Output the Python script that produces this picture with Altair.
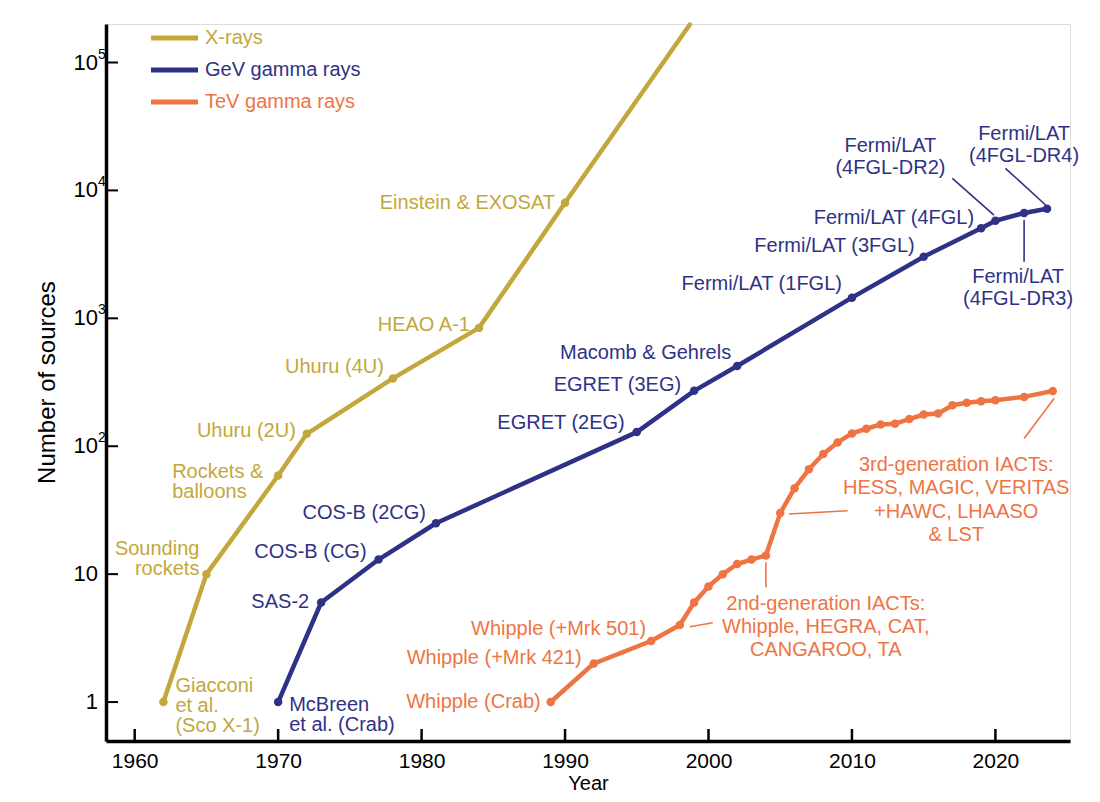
import altair as alt
import pandas as pd

# ---------------- data ----------------
xray_year = [1962, 1965, 1970, 1972, 1978, 1984, 1990, 1998.7]
xray_n = [1, 10, 59, 125, 339, 842, 8000, 198000]
xray_dot = [True, True, True, True, True, True, True, False]

gev_year = [1970, 1973, 1977, 1981, 1995, 1999, 2002, 2010, 2015, 2019, 2020, 2022, 2023.6]
gev_n = [1, 6, 13, 25, 129, 271, 424, 1451, 3033, 5064, 5788, 6658, 7194]

tev_year = [1989, 1992, 1996, 1998, 1999, 2000, 2001, 2002, 2003, 2004, 2005, 2006,
            2007, 2008, 2009, 2010, 2011, 2012, 2013, 2014, 2015, 2016, 2017, 2018,
            2019, 2020, 2022, 2024]
tev_n = [1, 2, 3, 4, 6, 8, 10, 12, 13, 14, 30, 47, 66, 87, 107, 126, 137, 148, 150,
         163, 177, 180, 209, 219, 225, 229, 243, 270]

series_names = ["X-rays", "GeV gamma rays", "TeV gamma rays"]
series_colors = ["#C3A73B", "#2E3286", "#EF7444"]

x_tick_years = [1960, 1970, 1980, 1990, 2000, 2010, 2020]
y_tick_vals = [1, 10, 100, 1000, 10000, 100000]
y_tick_base = ["1", "10", "10", "10", "10", "10"]
y_tick_exp = ["", "", "2", "3", "4", "5"]

# annotation leader lines (data units)
leader_series = ["GeV gamma rays", "GeV gamma rays", "GeV gamma rays",
                 "TeV gamma rays", "TeV gamma rays", "TeV gamma rays", "TeV gamma rays"]
leader_x1 = [2017.0, 2020.7, 2022.0, 1998.7, 2004.0, 2005.6, 2024.1]
leader_y1 = [12430, 14890, 5870, 3.88, 12.4, 29.5, 237]
leader_x2 = [2019.9, 2023.5, 2022.0, 2000.3, 2004.0, 2009.7, 2022.0]
leader_y2 = [6400, 7690, 2770, 4.17, 7.9, 31.3, 115]

# annotation labels: (series index, point index, text, align, dx, dy, lineHeight)
# dy refers to the vertical centre of the whole text block
annotations = [
    (0, 0, "Giacconi\net al.\n(Sco X-1)", "left", 12, 4, 20),
    (0, 1, "Sounding\nrockets", "right", -7, -15, 20),
    (0, 2, "Rockets &\nballoons", "left", -106, 6, 20),
    (0, 3, "Uhuru (2U)", "right", -11, -3, 20),
    (0, 4, "Uhuru (4U)", "right", -9, -11, 20),
    (0, 5, "HEAO A-1", "right", -9, -3, 20),
    (0, 6, "Einstein & EXOSAT", "right", -10, 0, 20),
    (1, 0, "McBreen\net al. (Crab)", "left", 11, 13, 20),
    (1, 1, "SAS-2", "right", -12, -1, 20),
    (1, 2, "COS-B (CG)", "right", -12, -8, 20),
    (1, 3, "COS-B (2CG)", "right", -10, -10, 20),
    (1, 4, "EGRET (2EG)", "right", -12, -9, 20),
    (1, 5, "EGRET (3EG)", "right", -13, -6, 20),
    (1, 6, "Macomb & Gehrels", "right", -6, -13, 20),
    (1, 7, "Fermi/LAT (1FGL)", "right", -10, -14, 20),
    (1, 8, "Fermi/LAT (3FGL)", "right", -9, -11, 20),
    (1, 9, "Fermi/LAT (4FGL)", "right", -7, -10, 20),
    (1, 10, "Fermi/LAT\n(4FGL-DR2)", "center", -105, -64, 22),
    (1, 11, "Fermi/LAT\n(4FGL-DR3)", "center", -6, 75, 22),
    (1, 12, "Fermi/LAT\n(4FGL-DR4)", "center", -23, -64, 22),
    (2, 0, "Whipple (Crab)", "right", -10, 0, 20),
    (2, 1, "Whipple (+Mrk 421)", "right", -12, -6, 20),
    (2, 2, "Whipple (+Mrk 501)", "right", -5, -12, 20),
    (2, 3, "2nd-generation IACTs:\nWhipple, HEGRA, CAT,\nCANGAROO, TA", "center", 146, 2, 23.3),
    (2, 10, "3rd-generation IACTs:\nHESS, MAGIC, VERITAS\n+HAWC, LHAASO\n& LST", "center", 176, -13, 23.3),
]

# ---------------- build tables ----------------
all_years = [xray_year, gev_year, tev_year]
all_ns = [xray_n, gev_n, tev_n]
all_dots = [xray_dot, [True] * len(gev_year), [True] * len(tev_year)]

frames = []
for name, yrs, ns, dots in zip(series_names, all_years, all_ns, all_dots):
    frames.append(pd.DataFrame({"series": name, "year": yrs, "n": ns, "dot": dots}))
df = pd.concat(frames, ignore_index=True)

leaders = pd.DataFrame({"series": leader_series, "year": leader_x1, "n": leader_y1,
                        "year2": leader_x2, "n2": leader_y2})

W, H = 964, 717
FONT = "Liberation Sans"

xscale = alt.Scale(domain=[1958, 2025.2], nice=False, zero=False)
yscale = alt.Scale(type="log", domain=[0.496, 2.0e5], nice=False)

xaxis = alt.Axis(values=x_tick_years, format="d", ticks=False, grid=False,
                 domainColor="black", domainWidth=3.5, labelFontSize=21,
                 labelColor="black", labelFont=FONT, labelPadding=9,
                 title="Year", titleFontSize=20, titleFontWeight="normal",
                 titleColor="black", titleFont=FONT, titleY=48,
                 titleBaseline="alphabetic")
yaxis = alt.Axis(labels=False, ticks=False, grid=False, domainColor="black",
                 domainWidth=3.5, title="")

X = alt.X("year:Q", scale=xscale, axis=xaxis)
Y = alt.Y("n:Q", scale=yscale, axis=yaxis)
color = alt.Color("series:N", scale=alt.Scale(domain=series_names, range=series_colors),
                  legend=None)

lines = alt.Chart(df).mark_line(strokeWidth=4.5, strokeJoin="round", strokeCap="round").encode(
    x=X, y=Y, color=color, order="year:Q")
points = alt.Chart(df[df["dot"]]).mark_circle(size=72, opacity=1).encode(x=X, y=Y, color=color)
leader_rules = alt.Chart(leaders).mark_rule(strokeWidth=1.6).encode(
    x=X, y=Y, x2="year2:Q", y2="n2:Q", color=color)

xticks = alt.Chart(pd.DataFrame({"year": x_tick_years})).mark_rule(
    color="black", strokeWidth=2.5).encode(x=X, y=alt.value(H), y2=alt.value(H - 12))
yticks = alt.Chart(pd.DataFrame({"n": y_tick_vals})).mark_rule(
    color="black", strokeWidth=2).encode(y=Y, x=alt.value(0), x2=alt.value(12))

ylab_df = pd.DataFrame({"n": y_tick_vals, "base": y_tick_base, "exp": y_tick_exp})
ylab_base = alt.Chart(ylab_df).mark_text(
    align="right", baseline="middle", fontSize=22, font=FONT, color="black").encode(
    y=Y, x=alt.value(-8), text="base:N")
ylab_exp = alt.Chart(ylab_df).mark_text(
    align="left", baseline="middle", fontSize=14, font=FONT, color="black", dy=-8).encode(
    y=Y, x=alt.value(-8), text="exp:N")

ytitle = alt.Chart(pd.DataFrame({"t": ["Number of sources"]})).mark_text(
    angle=270, align="center", baseline="middle", fontSize=24, font=FONT, color="black").encode(
    x=alt.value(-58), y=alt.value(H / 2), text="t:N")

layers = [lines, points, leader_rules, xticks, yticks, ylab_base, ylab_exp, ytitle]

# legend (drawn manually)
legend_y = [14, 46, 78]
for name, col, ly in zip(series_names, series_colors, legend_y):
    ldf = pd.DataFrame({"label": [name]})
    layers.append(alt.Chart(ldf).mark_rule(color=col, strokeWidth=5).encode(
        x=alt.value(45), x2=alt.value(92), y=alt.value(ly)))
    layers.append(alt.Chart(ldf).mark_text(
        align="left", baseline="middle", fontSize=20, font=FONT, color=col).encode(
        x=alt.value(99), y=alt.value(ly), text="label:N"))

# annotations
for si, pi, txt, al, dx, dy, lh in annotations:
    nlines = txt.count("\n") + 1
    dy_first = dy - (nlines - 1) * lh / 2.0
    adf = pd.DataFrame({"year": [all_years[si][pi]], "n": [all_ns[si][pi]], "t": [txt]})
    layers.append(alt.Chart(adf).mark_text(
        align=al, baseline="middle", fontSize=20, font=FONT, color=series_colors[si],
        dx=dx, dy=dy_first, lineBreak="\n", lineHeight=lh).encode(x=X, y=Y, text="t:N"))

chart = alt.layer(*layers).properties(
    width=W, height=H,
    autosize=alt.AutoSizeParams(type="none"),
    padding={"left": 106, "top": 24, "right": 30, "bottom": 61},
).configure_view(stroke="transparent").configure(font=FONT)

chart.save("out.html", embed_options={"renderer": "svg", "actions": False})
